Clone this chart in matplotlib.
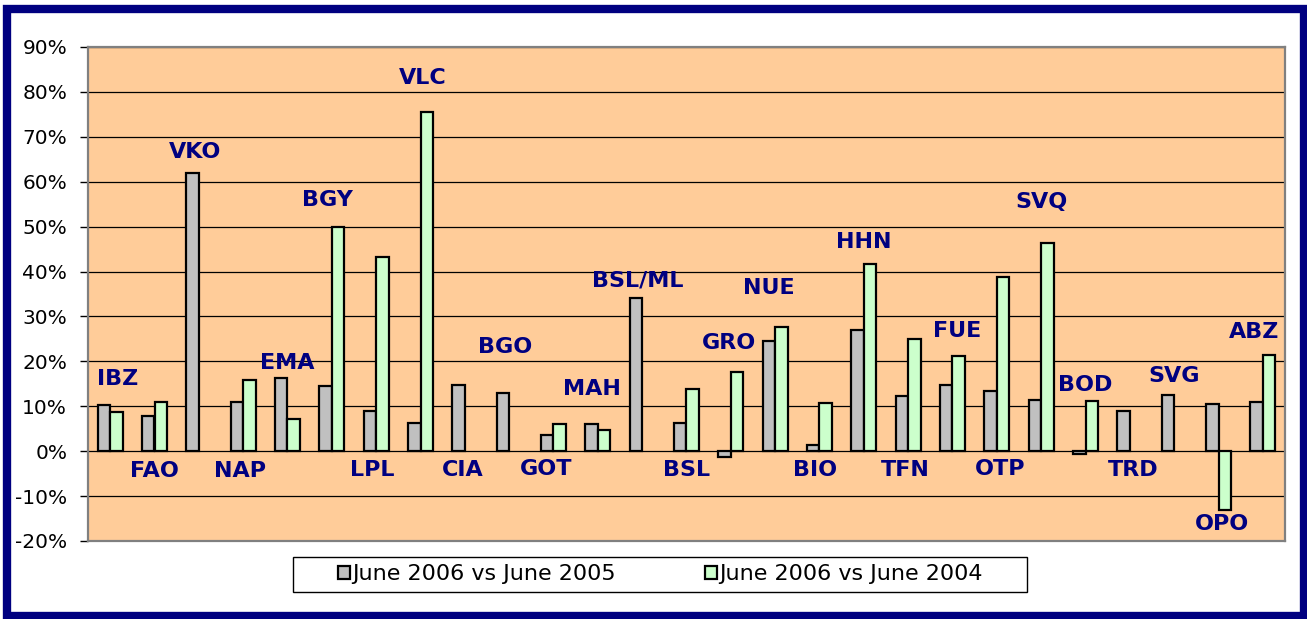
import numpy as np
import matplotlib
matplotlib.use("Agg")
import matplotlib.pyplot as plt
from matplotlib.patches import Rectangle

# airports and growth (%)
airports = ["IBZ", "FAO", "VKO", "NAP", "EMA", "BGY", "LPL", "VLC", "CIA",
            "BGO", "GOT", "MAH", "BSL/ML", "BSL", "GRO", "NUE", "BIO", "HHN",
            "TFN", "FUE", "OTP", "SVQ", "BOD", "TRD", "SVG", "OPO", "ABZ"]
vs_2005 = [10.3, 7.8, 62.0, 11.0, 16.2, 14.5, 9.0, 6.2, 14.8,
           13.0, 3.6, 6.0, 34.0, 6.2, -1.4, 24.6, 1.3, 27.0,
           12.3, 14.8, 13.3, 11.4, -0.7, 9.0, 12.4, 10.5, 11.0]
vs_2004 = [8.8, 11.0, np.nan, 15.8, 7.2, 50.0, 43.3, 75.5, np.nan,
           np.nan, 6.0, 4.8, np.nan, 13.8, 17.6, 27.6, 10.8, 41.6,
           25.0, 21.3, 38.8, 46.3, 11.2, np.nan, np.nan, -13.2, 21.5]
series_names = ["June 2006 vs June 2005", "June 2006 vs June 2004"]

# where each airport label sits (value axis, %) and its sideways nudge
label_y = [16.0, -4.5, 66.6, -4.5, 19.6, 56.0, -4.3, 83.0, -4.3,
           23.2, -3.9, 13.8, 38.0, -4.1, 24.0, 36.3, -4.3, 46.5,
           -4.3, 26.7, -3.9, 55.5, 14.7, -4.3, 16.7, -16.2, 26.5]
label_dx = [0.16, 0.0, -0.09, -0.07, 0.0, -0.09, -0.09, 0.05, -0.05,
            -0.09, -0.16, -0.13, -0.09, 0.0, -0.05, -0.14, -0.09, 0.0,
            -0.07, 0.11, 0.07, 0.0, 0.0, 0.07, 0.0, 0.07, -0.2]

W, H = 1307, 619
fig = plt.figure(figsize=(W / 100, H / 100), dpi=100)
fig.patch.set_facecolor("white")

# plot area in pixels: x 88..1285, y 47..541
ax = fig.add_axes([88 / W, (H - 541) / H, (1285 - 88) / W, (541 - 47) / H])
ax.set_facecolor("#FFCC99")

x = np.arange(len(airports))
bw = 0.28
ax.bar(x - bw / 2, vs_2005, bw, color="#C0C0C0", edgecolor="black",
       linewidth=1.6, label=series_names[0], zorder=3)
ax.bar(x + bw / 2, vs_2004, bw, color="#CCFFCC", edgecolor="black",
       linewidth=1.6, label=series_names[1], zorder=3)

for i, name in enumerate(airports):
    ax.text(x[i] + label_dx[i], label_y[i], name, ha="center", va="center",
            fontsize=16, fontweight="bold", color="#000080", zorder=4)

ax.set_xlim(-0.5, len(airports) - 0.5)
ax.set_ylim(-20, 90)
ax.set_yticks(np.arange(-20, 91, 10))
ax.set_yticklabels([f"{v}%" for v in range(-20, 91, 10)])
ax.set_xticks([])
ax.tick_params(axis="y", length=6, width=1, color="black", pad=9,
               labelsize=14.5, direction="out")
ax.grid(axis="y", color="black", linewidth=0.9, zorder=1)
ax.set_axisbelow(True)
for s in ax.spines.values():
    s.set_color("#808080")
    s.set_linewidth(1.6)

# legend box
lx0, lx1, ly0, ly1 = 293, 1027, 557, 592
fig.patches.append(Rectangle((lx0 / W, (H - ly1) / H), (lx1 - lx0) / W,
                             (ly1 - ly0) / H, transform=fig.transFigure,
                             facecolor="white", edgecolor="black",
                             linewidth=1.0))
fig.legend(loc="center", bbox_to_anchor=((lx0 + lx1) / 2 / W,
                                         (H - (ly0 + ly1) / 2) / H),
           ncol=2, frameon=False, fontsize=16, handlelength=0.55,
           handleheight=0.55, handletextpad=0.1, columnspacing=4.0,
           borderpad=0.2)

# navy frame around everything
fig.patches.append(Rectangle((7 / W, (H - 616) / H), (1304 - 7) / W,
                             (616 - 9) / H, transform=fig.transFigure,
                             facecolor="none", edgecolor="#000080",
                             linewidth=6))

fig.savefig("out.png", dpi=100)
